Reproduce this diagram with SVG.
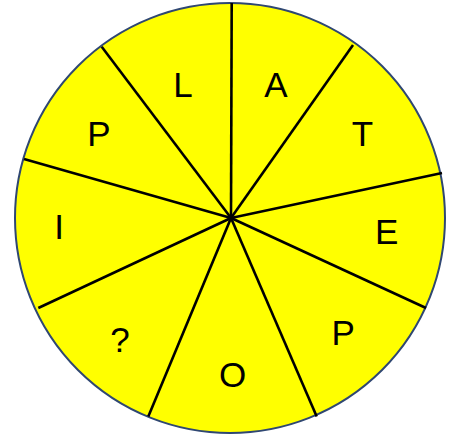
<svg xmlns="http://www.w3.org/2000/svg" width="457" height="436" viewBox="0 0 457 436">
<style>
.spoke{stroke:#000;stroke-width:2.6;stroke-linecap:butt;fill:none}
.lbl{font-family:"Liberation Sans",Arial,sans-serif;font-size:35px;fill:#000;text-anchor:middle}
</style>
<rect width="457" height="436" fill="#fff"/>
<g id="wheel">
<circle cx="230" cy="218" r="215" fill="#ffff00" stroke="#2f4772" stroke-width="2"/>
</g>
<g id="connectors">
<line class="spoke" x1="231" y1="218" x2="231.7" y2="3"/>
<line class="spoke" x1="231" y1="218" x2="353" y2="45"/>
<line class="spoke" x1="231" y1="218" x2="442" y2="173"/>
<line class="spoke" x1="231" y1="218" x2="426" y2="308"/>
<line class="spoke" x1="231" y1="218" x2="316.7" y2="416.5"/>
<line class="spoke" x1="231" y1="218" x2="148.3" y2="416.5"/>
<line class="spoke" x1="231" y1="218" x2="38.3" y2="308"/>
<line class="spoke" x1="231" y1="218" x2="24" y2="159"/>
<line class="spoke" x1="231" y1="218" x2="101.7" y2="46.7"/>
</g>
<g id="label-L"><text class="lbl" x="183" y="97">L</text></g>
<g id="label-A"><text class="lbl" x="276" y="97">A</text></g>
<g id="label-T"><text class="lbl" x="362.5" y="146">T</text></g>
<g id="label-P1"><text class="lbl" x="99" y="146">P</text></g>
<g id="label-I"><text class="lbl" x="59" y="238.5">I</text></g>
<g id="label-E"><text class="lbl" x="386.7" y="243.5">E</text></g>
<g id="label-P2"><text class="lbl" x="343.3" y="345">P</text></g>
<g id="label-Q"><text class="lbl" x="120" y="352">?</text></g>
<g id="label-O"><text class="lbl" x="232.5" y="387">O</text></g>
</svg>
